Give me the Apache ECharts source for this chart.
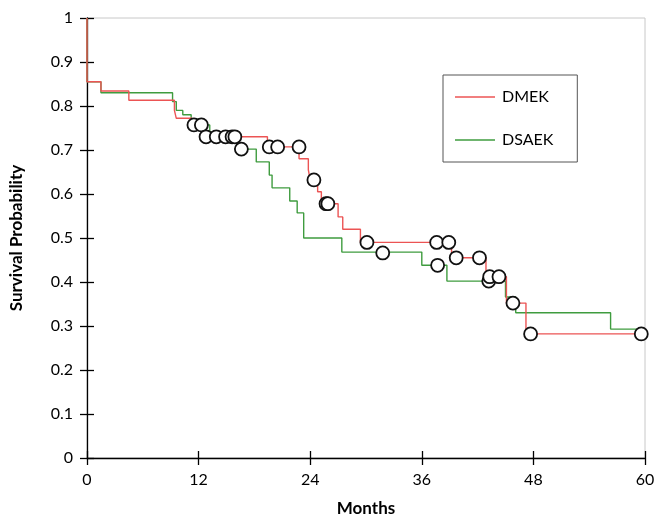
<!DOCTYPE html>
<html>
<head>
<meta charset="utf-8">
<script src="https://cdn.jsdelivr.net/npm/echarts@6/dist/echarts.min.js"></script>
<style>
  html, body { margin: 0; padding: 0; background: #fff; }
  #chart { width: 658px; height: 522px; }
</style>
</head>
<body>
<div id="chart"></div>
<script>
// Kaplan-Meier steps (months, survival)
const dmekTimes = [0, 0, 1.5, 4.5, 9.4, 9.6, 11.3, 12.6, 19.4, 22.8, 23.8, 24.0, 24.8, 25.2, 27.0, 27.5, 29.4, 39.2, 42.9, 45.1, 47.2, 59.6];
const dmekSurv  = [1, 0.855, 0.834, 0.813, 0.79, 0.772, 0.757, 0.73, 0.707, 0.68, 0.655, 0.632, 0.605, 0.578, 0.548, 0.52, 0.49, 0.455, 0.412, 0.352, 0.282, 0.282];

const dsaekTimes = [0, 0, 1.5, 9.2, 9.6, 10.3, 11.2, 12.0, 13.2, 15.6, 16.2, 18.2, 19.6, 19.9, 21.8, 22.6, 23.3, 27.4, 36.0, 38.7, 45.0, 46.1, 56.3, 60];
const dsaekSurv  = [1, 0.855, 0.83, 0.81, 0.79, 0.78, 0.77, 0.757, 0.74, 0.715, 0.702, 0.673, 0.643, 0.614, 0.584, 0.557, 0.5, 0.468, 0.438, 0.402, 0.366, 0.33, 0.293, 0.293];

// censored observations (open circles)
const censorTimes = [11.5, 12.3, 12.8, 13.9, 14.9, 15.6, 15.9, 16.6, 19.6, 20.5, 22.8, 24.4, 25.7, 25.9, 30.1, 31.8, 37.6, 37.7, 38.9, 39.7, 42.2, 43.2, 43.3, 44.3, 45.8, 47.7, 59.6];
const censorSurv  = [0.757, 0.757, 0.73, 0.73, 0.73, 0.73, 0.73, 0.702, 0.707, 0.707, 0.707, 0.632, 0.578, 0.578, 0.49, 0.466, 0.49, 0.438, 0.49, 0.455, 0.455, 0.402, 0.412, 0.412, 0.352, 0.282, 0.282];

const xTicks = [0, 12, 24, 36, 48, 60];

const zip = (a, b) => a.map((v, i) => [v, b[i]]);
const font = "Lato, 'Open Sans', sans-serif";

const chart = echarts.init(document.getElementById("chart"), null, { renderer: "canvas" });

const axisLineStyle = { color: "#000", width: 1.3 };

chart.setOption({
  backgroundColor: "#fff",
  animation: false,
  grid: {
    left: 87, right: 13, top: 18, bottom: 64,
    show: true, borderColor: "#c8c8c8", borderWidth: 1, backgroundColor: "transparent"
  },
  legend: {
    data: [
      { name: "DMEK", icon: "rect" },
      { name: "DSAEK", icon: "rect" }
    ],
    orient: "vertical",
    left: 443, top: 75,
    width: 122,
    padding: [14, 24, 14, 12],
    itemGap: 27,
    itemWidth: 40, itemHeight: 1.5,
    borderColor: "#555", borderWidth: 1,
    textStyle: { fontFamily: font, fontSize: 16, color: "#000", padding: [0, 0, 0, 2] }
  },
  xAxis: [{
    type: "value", min: 0, max: 60, interval: 12,
    name: "Months", nameLocation: "middle", nameGap: 42,
    nameTextStyle: { fontFamily: font, fontSize: 17, fontWeight: "bold", color: "#000" },
    axisLine: { lineStyle: axisLineStyle },
    axisTick: { show: true, length: 7, lineStyle: axisLineStyle },
    axisLabel: { fontFamily: font, fontSize: 16, color: "#000", margin: 14,
      formatter: v => xTicks.includes(v) ? String(v) : "" },
    splitLine: { show: false }
  }, {
    type: "value", min: 0, max: 60, interval: 12, position: "bottom",
    axisLine: { show: false },
    axisTick: { show: true, inside: true, length: 7, lineStyle: axisLineStyle },
    axisLabel: { show: false }, splitLine: { show: false }
  }],
  yAxis: [{
    type: "value", min: 0, max: 1, interval: 0.1,
    name: "Survival Probability", nameLocation: "middle", nameGap: 62,
    nameTextStyle: { fontFamily: font, fontSize: 17, fontWeight: "bold", color: "#000" },
    axisLine: { show: true, lineStyle: axisLineStyle },
    axisTick: { show: true, length: 7, lineStyle: axisLineStyle },
    axisLabel: { fontFamily: font, fontSize: 16, color: "#000", margin: 14,
      formatter: v => String(Math.round(v * 10) / 10) },
    splitLine: { show: false }
  }, {
    type: "value", min: 0, max: 1, interval: 0.1, position: "left",
    axisLine: { show: false },
    axisTick: { show: true, inside: true, length: 7, lineStyle: axisLineStyle },
    axisLabel: { show: false }, splitLine: { show: false }
  }],
  series: [
    {
      name: "DSAEK", type: "line", step: "end", showSymbol: false, symbol: "none",
      data: zip(dsaekTimes, dsaekSurv),
      color: "#3f9c3f",
      lineStyle: { color: "#3f9c3f", width: 1.4 },
      z: 2
    },
    {
      name: "DMEK", type: "line", step: "end", showSymbol: false, symbol: "none",
      data: zip(dmekTimes, dmekSurv),
      color: "#ec5454",
      lineStyle: { color: "#ec5454", width: 1.4 },
      z: 3
    },
    {
      name: "Censored", type: "scatter",
      data: zip(censorTimes, censorSurv),
      symbol: "circle", symbolSize: 13,
      itemStyle: { color: "#fff", borderColor: "#111", borderWidth: 1.8, opacity: 1 },
      z: 4
    }
  ]
});
</script>
</body>
</html>
